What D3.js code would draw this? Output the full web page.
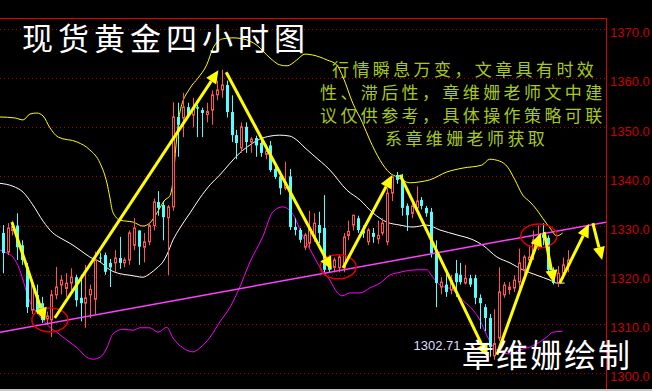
<!DOCTYPE html>
<html>
<head>
<meta charset="utf-8">
<script src="https://cdn.jsdelivr.net/npm/d3@7"></script>
<style>
  body { margin: 0; background: #000; overflow: hidden; }
</style>
</head>
<body>
<svg id="graph" width="652" height="391"></svg>
<script>
// 4-hour candles (index = candle number)
const opens = [1328.5,1324.6,1329.0,1330.0,1326.0,1321.6,1312.8,1315.9,1314.2,1311.0,
  1310.8,1315.9,1317.9,1317.2,1318.3,1319.5,1315.3,1314.2,1315.9,1315.0,
  1323.5,1324.0,1322.4,1322.4,1323.4,1322.4,1323.0,1326.0,1329.0,1325.6,
  1326.7,1330.0,1334.8,1334.2,1331.6,1333.8,1352.1,1351.9,1354.1,1352.5,
  1354.1,1353.5,1352.6,1353.5,1356.6,1357.6,1358.6,1353.1,1348.4,1345.8,
  1350.1,1347.0,1347.8,1346.8,1344.5,1346.3,1341.5,1340.0,1337.6,1340.0,
  1329.7,1329.1,1325.6,1326.4,1327.7,1330.1,1329.5,1323.6,1321.5,1321.4,
  1321.4,1328.0,1330.1,1331.5,1329.0,1326.7,1328.5,1327.3,1328.5,1326.7,
  1336.6,1340.3,1339.3,1334.0,1332.5,1333.6,1335.2,1333.6,1332.8,1325.0,
  1317.5,1318.0,1316.9,1320.3,1320.0,1318.3,1319.3,1319.3,1315.3,1313.4,
  1311.2,1303.5,1307.1,1315.9,1317.0,1317.3,1318.5,1321.0,1323.0,1324.4,
  1325.6,1328.5,1327.5,1321.0,1318.3,1320.3,1322.0];
const highs = [1330.1,1330.5,1331.0,1332.5,1327.0,1322.4,1318.5,1318.0,1315.5,1312.5,
  1316.9,1321.6,1319.9,1320.3,1321.3,1320.0,1320.0,1322.0,1318.0,1324.7,
  1324.5,1324.5,1323.2,1325.0,1327.7,1323.5,1329.0,1331.5,1329.0,1328.5,
  1330.5,1335.5,1337.0,1335.0,1334.2,1355.1,1355.0,1357.0,1355.0,1356.0,
  1354.6,1354.0,1355.0,1357.5,1359.5,1361.7,1359.5,1356.5,1349.5,1351.0,
  1351.0,1348.0,1348.3,1347.5,1346.5,1347.2,1342.5,1341.0,1343.0,1341.5,
  1331.5,1329.5,1328.5,1333.0,1332.5,1332.8,1336.2,1324.0,1323.5,1324.0,
  1328.5,1331.0,1332.2,1332.0,1330.0,1329.5,1329.5,1331.0,1331.5,1337.6,
  1340.0,1340.9,1340.5,1334.5,1334.5,1338.0,1335.8,1334.0,1333.6,1327.0,
  1319.5,1321.0,1320.0,1323.0,1322.4,1322.0,1320.0,1320.0,1316.0,1314.0,
  1312.0,1313.0,1321.5,1318.5,1318.5,1319.9,1325.3,1324.0,1326.0,1329.0,
  1330.0,1330.5,1328.0,1321.5,1321.8,1323.5,1325.0];
const lows = [1320.3,1324.0,1328.0,1323.0,1322.0,1312.2,1312.0,1312.0,1310.2,1309.8,
  1307.3,1315.0,1316.0,1315.5,1316.8,1313.5,1310.5,1309.2,1311.2,1312.0,
  1322.5,1320.0,1317.5,1320.5,1321.2,1321.5,1322.0,1325.0,1322.0,1322.5,
  1326.0,1329.0,1332.0,1327.0,1319.9,1333.0,1344.0,1348.0,1352.0,1350.0,
  1348.0,1348.0,1351.0,1350.5,1355.5,1356.0,1352.0,1347.0,1343.5,1344.8,
  1344.8,1344.8,1344.0,1344.0,1343.5,1340.9,1339.5,1336.3,1337.2,1329.1,
  1328.0,1326.5,1325.0,1325.5,1326.7,1326.4,1320.5,1320.5,1320.5,1320.5,
  1320.5,1327.0,1329.0,1328.5,1327.5,1326.0,1326.5,1326.3,1328.0,1326.0,
  1335.0,1338.5,1332.0,1328.9,1331.5,1332.5,1333.3,1331.8,1323.5,1313.4,
  1316.0,1315.5,1316.0,1315.5,1318.0,1318.0,1317.5,1314.0,1309.0,1308.5,
  1303.3,1302.71,1306.5,1315.3,1316.0,1316.5,1317.0,1319.5,1321.5,1323.0,
  1325.0,1326.0,1320.5,1318.0,1317.5,1319.2,1320.5];
const closes = [1324.4,1329.5,1329.8,1325.6,1323.0,1313.4,1317.9,1312.2,1310.8,1311.6,
  1315.9,1317.5,1318.9,1318.3,1319.5,1314.8,1314.2,1315.3,1317.0,1323.0,
  1323.3,1320.6,1321.5,1323.4,1322.4,1323.0,1328.5,1329.5,1325.7,1326.7,
  1330.0,1334.8,1333.6,1331.7,1333.8,1352.1,1350.5,1354.1,1352.5,1354.1,
  1353.8,1352.9,1353.2,1356.6,1357.6,1358.6,1353.1,1348.4,1346.8,1350.1,
  1347.0,1347.6,1346.3,1344.8,1345.2,1341.3,1339.9,1337.6,1338.8,1329.7,
  1329.1,1327.1,1328.1,1329.5,1330.5,1328.5,1321.0,1321.0,1323.0,1323.6,
  1327.7,1328.8,1332.1,1329.1,1328.4,1329.1,1327.7,1328.0,1330.5,1336.6,
  1339.9,1339.3,1333.6,1332.1,1334.0,1335.0,1334.0,1332.5,1324.4,1318.3,
  1318.5,1316.5,1318.9,1318.5,1318.5,1319.3,1318.0,1315.3,1314.2,1311.2,
  1305.3,1306.0,1316.5,1317.9,1317.5,1318.9,1322.4,1323.6,1323.6,1327.1,
  1327.7,1327.5,1321.0,1318.3,1320.3,1322.0,1323.0];

// Bollinger bands [candle index, price]
const upperBand = [[-0.55,1352.1],[2.5,1351.9],[4.2,1351.5],[5.6,1352.7],[7.0,1352.9],[8.3,1352.3],
  [9.7,1349.9],[11.4,1348.0],[15.3,1347.0],[17.9,1345.4],[20.0,1342.7],[21.4,1338.7],[22.0,1335.8],
  [22.6,1332.8],[24.1,1331.1],[26.8,1330.7],[28.8,1329.9],[30.2,1330.5],[31.7,1332.6],[33.3,1335.2],
  [34.3,1336.0],[35.0,1339.3],[35.6,1346.4],[36.4,1353.1],[38.5,1358.0],[40.1,1360.0],[41.9,1362.7],
  [43.2,1366.1],[45.2,1368.0],[47.3,1368.2],[49.3,1368.0],[52.2,1366.7],[54.9,1364.1],[56.9,1362.7],
  [58.4,1362.5],[60.4,1363.7],[62.1,1364.9],[63.7,1364.7],[66.6,1363.7],[68.6,1362.7],[69.9,1360.2],
  [71.9,1354.9],[73.9,1350.9],[75.4,1347.4],[77.5,1343.3],[79.5,1340.7],[81.0,1339.9],[83.6,1338.7],
  [85.7,1338.9],[87.7,1339.3],[91.2,1340.9],[94.5,1341.7],[98.4,1342.3],[100.0,1343.5],[102.1,1343.1],
  [103.7,1341.9],[105.2,1339.3],[106.8,1336.2],[108.3,1334.8],[109.7,1333.2],[110.9,1331.5],
  [112.4,1329.5],[113.8,1327.9],[115.0,1328.5]];
const middleBand = [[-0.55,1338.6],[2.1,1338.0],[4.2,1336.8],[6.2,1334.2],[8.3,1330.9],[10.3,1328.5],
  [11.8,1327.5],[13.8,1326.4],[15.9,1325.0],[17.9,1323.6],[20.0,1322.6],[22.0,1321.0],[24.1,1320.2],
  [26.1,1319.9],[28.8,1319.5],[30.2,1320.2],[31.7,1321.4],[32.9,1322.6],[33.7,1324.0],[35.0,1327.1],
  [36.4,1329.5],[38.5,1332.6],[40.5,1335.6],[42.6,1338.3],[44.6,1340.3],[46.7,1342.7],[48.7,1344.8],
  [50.8,1346.4],[52.8,1347.6],[54.9,1348.2],[56.9,1348.4],[59.0,1348.2],[60.4,1347.4],[62.1,1345.8],
  [63.7,1344.4],[67.2,1341.3],[70.7,1337.2],[73.4,1335.2],[76.0,1332.6],[78.9,1330.7],[81.6,1330.1],
  [84.2,1329.7],[87.1,1330.1],[89.8,1329.1],[93.3,1328.1],[96.6,1327.1],[98.6,1326.0],[101.5,1323.6],
  [104.2,1322.4],[106.8,1321.0],[109.7,1319.9],[112.4,1318.9],[113.8,1318.3],[115.4,1318.3]];
const lowerBand = [[-0.55,1325.0],[0.9,1324.4],[2.1,1323.6],[3.5,1321.0],[4.6,1317.5],[5.2,1315.5],
  [6.2,1313.4],[7.7,1311.4],[9.7,1309.3],[11.1,1308.3],[13.2,1306.7],[15.3,1305.1],[17.3,1303.2],
  [18.5,1302.8],[20.0,1303.2],[21.4,1305.1],[22.6,1307.9],[24.7,1308.9],[26.8,1308.7],[28.2,1309.2],
  [30.2,1309.2],[31.9,1308.3],[33.7,1309.3],[35.0,1307.1],[37.0,1305.1],[39.1,1304.3],[40.5,1305.1],
  [42.6,1307.3],[44.6,1310.4],[46.7,1313.4],[48.7,1317.5],[50.8,1322.6],[53.4,1327.7],[55.5,1332.8],
  [57.5,1333.8],[59.6,1332.3],[61.7,1327.7],[63.1,1325.2],[65.1,1321.6],[67.2,1318.9],[68.6,1316.5],
  [69.7,1315.7],[71.3,1316.3],[73.4,1316.3],[75.4,1317.3],[77.5,1318.3],[79.5,1319.9],[81.6,1320.5],
  [85.1,1321.0],[87.1,1321.0],[88.3,1319.5],[89.8,1317.9],[92.5,1316.9],[94.5,1314.8],[96.6,1312.8],
  [98.0,1310.8],[99.4,1307.7],[100.5,1305.7],[102.1,1304.3],[104.2,1303.9],[106.2,1304.7],
  [108.3,1305.3],[110.3,1306.3],[111.7,1307.3],[113.0,1308.3],[115.0,1308.5]];

// hand-drawn annotations
const trendLine = [[-0.55, 1308.3], [123.9, 1330.7]];
const arrows = [
  [[1.9, 1330.7], [8.7, 1310.6]],
  [[10.7, 1311.2], [44.3, 1361.6]],
  [[45.9, 1361.2], [67.6, 1321.0]],
  [[69.9, 1321.4], [80.0, 1340.3]],
  [[81.6, 1340.3], [99.6, 1303.3]],
  [[101.5, 1303.7], [110.5, 1328.5]],
  [[111.2, 1328.7], [113.2, 1318.3]],
  [[114.4, 1318.3], [120.4, 1330.3]],
  [[121.2, 1330.5], [123.1, 1323.0]]
];
const circles = [[9.7, 1310.8], [68.9, 1321.6], [110.1, 1327.9]];
const lowIndex = 101, lowValue = 1302.71;

const yTicks = [1300, 1310, 1320, 1330, 1340, 1350, 1360, 1370];
const noteLines = ["行情瞬息万变，文章具有时效", "性、滞后性，章维姗老师文中建",
                   "议仅供参考，具体操作策略可联", "系章维姗老师获取"];

const svg = d3.select("#graph");
const plotRight = 606, plotTop = 18, plotBottom = 389;

const x = d3.scaleLinear().domain([-0.55, 123.9]).range([0, plotRight]);
const y = d3.scaleLinear().domain([1300, 1370]).range([373, 29]);

svg.append("rect").attr("width", 652).attr("height", 391).attr("fill", "#000");

svg.append("clipPath").attr("id", "plotclip")
  .append("rect").attr("x", 0).attr("y", plotTop).attr("width", plotRight).attr("height", plotBottom - plotTop);

// dotted grid
svg.append("g").selectAll("line").data(yTicks).enter().append("line")
  .attr("x1", 0).attr("x2", plotRight)
  .attr("y1", d => Math.round(y(d)) + 0.5).attr("y2", d => Math.round(y(d)) + 0.5)
  .attr("stroke", "#b00000").attr("stroke-dasharray", "1,3");

// frame
svg.append("line").attr("x1", 0).attr("x2", plotRight + 0.5).attr("y1", plotTop + 0.5).attr("y2", plotTop + 0.5)
  .attr("stroke", "#e00000");
svg.append("line").attr("x1", plotRight + 0.5).attr("x2", plotRight + 0.5).attr("y1", plotTop).attr("y2", 391)
  .attr("stroke", "#e00000");

// right axis
const axis = svg.append("g")
  .attr("transform", `translate(${plotRight},0)`)
  .call(d3.axisRight(y).tickValues(yTicks).tickSize(0).tickPadding(4).tickFormat(d3.format(".1f")));
axis.select(".domain").remove();
axis.selectAll("text")
  .attr("fill", "#c80000")
  .attr("dy", "0.6em")
  .style("font-family", "'Liberation Sans', Arial, sans-serif")
  .style("font-size", "13px");

const g = svg.append("g").attr("clip-path", "url(#plotclip)");

// bands
const line = d3.line().x(d => x(d[0])).y(d => y(d[1])).curve(d3.curveMonotoneX);
[[upperBand, "#ffff00"], [middleBand, "#ffffff"], [lowerBand, "#ff00ff"]].forEach(([band, col]) => {
  g.append("path").datum(band).attr("d", line)
    .attr("fill", "none").attr("stroke", col).attr("stroke-width", 1);
});

// candles
const candles = opens.map((o, i) => ({ i, o, h: highs[i], l: lows[i], c: closes[i] }));
const cx = d => Math.round(x(d.i)) + 0.5;
const up = "#ff5454", down = "#54ffff";

const cg = g.append("g");
cg.selectAll(".wick").data(candles).enter().append("line")
  .attr("class", "wick")
  .attr("x1", cx).attr("x2", cx)
  .attr("y1", d => y(d.h)).attr("y2", d => y(d.l))
  .attr("stroke", d => d.c >= d.o ? up : down);

cg.selectAll(".body").data(candles).enter().append("rect")
  .attr("class", "body")
  .attr("x", d => d.c >= d.o ? cx(d) - 1 : cx(d) - 1.5)
  .attr("width", d => d.c >= d.o ? 2 : 3)
  .attr("y", d => y(Math.max(d.o, d.c)))
  .attr("height", d => Math.max(1, Math.abs(y(d.o) - y(d.c))))
  .attr("fill", d => d.c >= d.o ? "#000" : down)
  .attr("stroke", d => d.c >= d.o ? up : "none")
  .attr("stroke-width", 1);

// trend line
g.append("path").datum(trendLine).attr("d", d3.line().x(d => x(d[0])).y(d => y(d[1])))
  .attr("stroke", "#ff40ff").attr("stroke-width", 1.5).attr("fill", "none");

// circles
g.selectAll(".ring").data(circles).enter().append("ellipse")
  .attr("cx", d => x(d[0])).attr("cy", d => y(d[1]))
  .attr("rx", 18).attr("ry", 12)
  .attr("fill", "none").attr("stroke", "#e00000").attr("stroke-width", 1.5);

// arrows
arrows.forEach(([p0, p1]) => {
  const x0 = x(p0[0]), y0 = y(p0[1]), x1 = x(p1[0]), y1 = y(p1[1]);
  const a = Math.atan2(y1 - y0, x1 - x0);
  const hl = 13, hw = 6;
  const bx = x1 - hl * Math.cos(a), by = y1 - hl * Math.sin(a);
  g.append("line").attr("x1", x0).attr("y1", y0).attr("x2", bx).attr("y2", by)
    .attr("stroke", "#ffff00").attr("stroke-width", 3);
  g.append("polygon")
    .attr("points", [[x1, y1], [bx + hw * Math.sin(a), by - hw * Math.cos(a)], [bx - hw * Math.sin(a), by + hw * Math.cos(a)]].map(p => p.join(",")).join(" "))
    .attr("fill", "#ffff00");
});

// low label
svg.append("text")
  .attr("x", x(lowIndex) - 34).attr("y", y(lowValue) - 10)
  .attr("text-anchor", "end")
  .attr("fill", "#dcdcff")
  .style("font-family", "'Liberation Sans', Arial, sans-serif")
  .style("font-size", "13px")
  .text(d3.format(".2f")(lowValue));

// title
svg.append("text")
  .attr("x", 22).attr("y", 50)
  .attr("fill", "#ffffff")
  .style("font-family", "'Noto Sans CJK SC', sans-serif")
  .style("font-size", "31px")
  .style("letter-spacing", "5px")
  .text("现货黄金四小时图");

// note
const noteX = [332, 320, 320, 385];
svg.append("g").selectAll("text").data(noteLines).enter().append("text")
  .attr("x", (d, i) => noteX[i]).attr("y", (d, i) => 76 + i * 23)
  .attr("fill", "#a9c81e")
  .style("font-family", "'Noto Sans CJK SC', sans-serif")
  .style("font-size", "17px")
  .style("letter-spacing", "3.4px")
  .text(d => d);

// signature
svg.append("text")
  .attr("x", 462).attr("y", 367)
  .attr("fill", "#ffffff")
  .style("font-family", "'Noto Sans CJK SC', sans-serif")
  .style("font-size", "32px")
  .style("letter-spacing", "2px")
  .text("章维姗绘制");

// bottom strip
svg.append("rect").attr("x", 0).attr("y", 389).attr("width", 652).attr("height", 2).attr("fill", "#c8c8c8");
</script>
</body>
</html>
